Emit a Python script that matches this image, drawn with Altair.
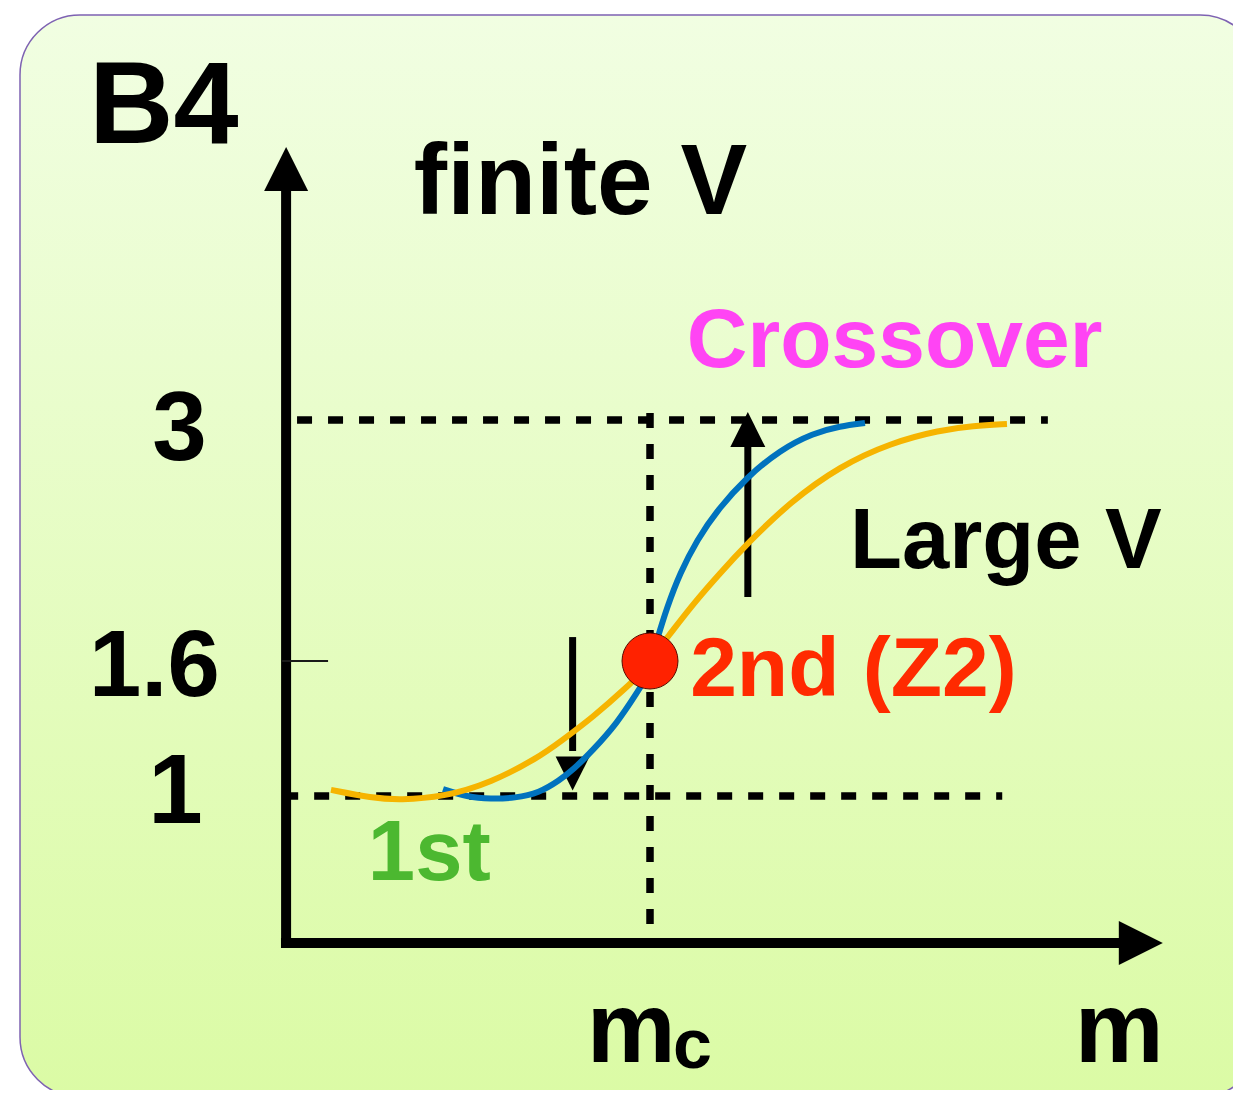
import altair as alt
import pandas as pd

# ---------------- data ----------------
# x in units of m (axis origin = 0, m_c = 1); y in units of B4
orange_m = [0.126, 0.238, 0.315, 0.433, 0.564, 0.696, 0.753, 0.844, 0.937, 0.978,
            1.000, 1.027, 1.055, 1.118, 1.192, 1.268, 1.384, 1.521, 1.658, 1.795,
            1.885, 1.978]
orange_b4 = [1.027, 0.986, 0.973, 0.993, 1.058, 1.173, 1.240, 1.351, 1.484, 1.551,
             1.600, 1.681, 1.757, 1.931, 2.111, 2.285, 2.524, 2.733, 2.866, 2.942,
             2.965, 2.977]

blue_m = [0.433, 0.499, 0.564, 0.630, 0.696, 0.753, 0.789, 0.844, 0.910, 0.964,
          0.995, 1.005, 1.019, 1.047, 1.082, 1.129, 1.184, 1.266, 1.356, 1.447,
          1.521, 1.589]
blue_b4 = [1.031, 0.993, 0.980, 0.986, 1.013, 1.071, 1.116, 1.204, 1.324, 1.458,
           1.538, 1.617, 1.722, 1.914, 2.111, 2.303, 2.477, 2.669, 2.826, 2.924,
           2.965, 2.983]

# critical point (m_c, B4 = 1.6)
dot_m = [1.0]
dot_b4 = [1.6]

# reference levels
level_first = 1.0
level_second = 1.6
level_crossover = 3.0
m_c = 1.0

# text labels: label, x, y (baseline), font size, colour
labels = ["B4", "finite V", "Crossover", "Large V", "2nd (Z2)", "1st",
          "3", "1.6", "1", "m", "m", "c"]
label_x = [-0.537, 0.353, 1.101, 1.548, 1.110, 0.227,
           -0.364, -0.537, -0.375, 2.164, 0.827, 1.063]
label_y = [4.609, 4.197, 3.308, 2.140, 1.444, 0.429,
           2.768, 1.444, 0.816, -0.810, -0.810, -0.850]
label_size = [117, 100, 84, 85, 84, 85, 98, 94, 98, 100, 100, 70]
label_color = ["#000000", "#000000", "#FF44F4", "#000000", "#FF2A00", "#4CB830",
               "#000000", "#000000", "#000000", "#000000", "#000000", "#000000"]

# ---------------- scales ----------------
x_scale = alt.Scale(domain=[0, 1], range=[277, 642], nice=False, zero=False)
y_scale = alt.Scale(domain=[0, 1, 1.6, 3], range=[935, 788, 653, 412],
                    nice=False, zero=False)

def X(field="x"):
    return alt.X(f"{field}:Q", scale=x_scale, axis=None)

def Y(field="y"):
    return alt.Y(f"{field}:Q", scale=y_scale, axis=None)

# ---------------- background panel ----------------
panel = alt.Chart(pd.DataFrame({"a": [0]})).mark_rect(
    cornerRadius=60,
    fill=alt.LinearGradient(
        gradient="linear", x1=0, y1=0, x2=0, y2=1,
        stops=[alt.GradientStop(color="#F1FEE2", offset=0),
               alt.GradientStop(color="#DBFBA5", offset=1)]),
    stroke="#7E62B2", strokeWidth=1.5,
).encode(x=alt.value(12), x2=alt.value(1252), y=alt.value(7), y2=alt.value(1089))

# ---------------- dashed guide lines ----------------
dash_df = pd.DataFrame({
    "x": [0.033, -0.005, m_c],
    "x2": [2.09, 1.965, m_c],
    "y": [level_crossover, level_first, 3.04],
    "y2": [level_crossover, level_first, 0.054],
})
dashes = alt.Chart(dash_df).mark_rule(
    color="black", strokeWidth=7.5, strokeDash=[15, 16]
).encode(x=X(), x2="x2:Q", y=Y(), y2="y2:Q")

# ---------------- axes ----------------
axis_df = pd.DataFrame({
    "x": [0.003, -0.011],
    "x2": [0.003, 2.30],
    "y": [-0.03, 0.0],
    "y2": [4.35, 0.0],
})
axes = alt.Chart(axis_df).mark_rule(color="black", strokeWidth=10).encode(
    x=X(), x2="x2:Q", y=Y(), y2="y2:Q")

tick_df = pd.DataFrame({"x": [-0.008], "x2": [0.118], "y": [level_second]})
tick = alt.Chart(tick_df).mark_rule(color="#1a1a1a", strokeWidth=2).encode(
    x=X(), x2="x2:Q", y=Y())

head_up = "M0,0L1,2L-1,2Z"
head_right = "M0,0L-2,-1L-2,1Z"
head_down = "M0,0L1,-2L-1,-2Z"

yhead = alt.Chart(pd.DataFrame({"x": [0.003], "y": [4.586]})).mark_point(
    shape=head_up, size=1936, filled=True, color="black", opacity=1, strokeWidth=0
).encode(x=X(), y=Y())
xhead = alt.Chart(pd.DataFrame({"x": [2.405], "y": [0.0]})).mark_point(
    shape=head_right, size=1936, filled=True, color="black", opacity=1, strokeWidth=0
).encode(x=X(), y=Y())

# ---------------- finite-size arrows ----------------
shaft_df = pd.DataFrame({"x": [1.268, 0.788], "y": [1.972, 1.739], "y2": [2.90, 1.20]})
shafts = alt.Chart(shaft_df).mark_rule(color="black", strokeWidth=7).encode(
    x=X(), y=Y(), y2="y2:Q")
uphead = alt.Chart(pd.DataFrame({"x": [1.268], "y": [3.046]})).mark_point(
    shape=head_up, size=1225, filled=True, color="black", opacity=1, strokeWidth=0
).encode(x=X(), y=Y())
downhead = alt.Chart(pd.DataFrame({"x": [0.788], "y": [1.024]})).mark_point(
    shape=head_down, size=1156, filled=True, color="black", opacity=1, strokeWidth=0
).encode(x=X(), y=Y())

# ---------------- curves and critical point ----------------
blue = alt.Chart(pd.DataFrame({"x": blue_m, "y": blue_b4})).mark_line(
    color="#0072BE", strokeWidth=6, interpolate="basis", strokeCap="butt"
).encode(x=X(), y=Y())
orange = alt.Chart(pd.DataFrame({"x": orange_m, "y": orange_b4})).mark_line(
    color="#F6B400", strokeWidth=6, interpolate="basis", strokeCap="butt"
).encode(x=X(), y=Y())

dot = alt.Chart(pd.DataFrame({"x": dot_m, "y": dot_b4})).mark_point(
    shape="circle", size=3136, filled=True, color="#FF2200", opacity=1,
    stroke="#5a0a00", strokeWidth=1
).encode(x=X(), y=Y())

# ---------------- texts ----------------
text_df = pd.DataFrame({"label": labels, "x": label_x, "y": label_y,
                        "size": label_size, "color": label_color})
texts = alt.Chart(text_df).mark_text(
    align="left", baseline="alphabetic", font="Liberation Sans", fontWeight="bold"
).encode(
    x=X(), y=Y(), text="label:N",
    size=alt.Size("size:Q", scale=None, legend=None),
    color=alt.Color("color:N", scale=None, legend=None),
)

chart = alt.layer(
    panel, dashes, axes, tick, yhead, xhead, shafts, uphead, downhead,
    blue, orange, dot, texts
).properties(
    width=1225, height=1082, padding=0,
    autosize=alt.AutoSizeParams(type="none"),
    view=alt.ViewBackground(stroke="transparent", strokeWidth=0),
).configure_view(stroke="transparent", strokeWidth=0).configure(background="white")

chart.save("out.html", embed_options={"renderer": "svg", "actions": False})
